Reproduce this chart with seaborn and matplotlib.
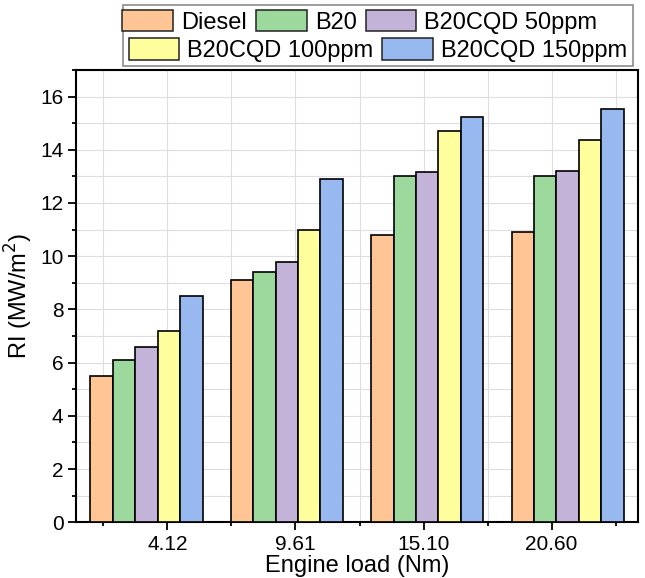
import matplotlib
matplotlib.use("Agg")
import matplotlib.pyplot as plt
from matplotlib.patches import Patch, Rectangle
from matplotlib.ticker import FixedLocator, MultipleLocator
import pandas as pd
import seaborn as sns

# Engine loads (Nm) and fuel blends
loads = ["4.12", "9.61", "15.10", "20.60"]
fuels = ["Diesel", "B20", "B20CQD 50ppm", "B20CQD 100ppm", "B20CQD 150ppm"]

# Radiation intensity RI (MW/m^2) per fuel, one value per engine load
ri_diesel = [5.5, 9.1, 10.8, 10.9]
ri_b20 = [6.1, 9.4, 13.0, 13.0]
ri_cqd50 = [6.6, 9.8, 13.15, 13.2]
ri_cqd100 = [7.2, 11.0, 14.7, 14.35]
ri_cqd150 = [8.5, 12.9, 15.23, 15.55]

colors = ["#FFC594", "#9DD89D", "#C3B3D8", "#FEFE9C", "#98B9EF"]

series = [ri_diesel, ri_b20, ri_cqd50, ri_cqd100, ri_cqd150]
df = pd.DataFrame(
    [(load, fuel, v) for fuel, vals in zip(fuels, series) for load, v in zip(loads, vals)],
    columns=["load", "fuel", "ri"],
)

sns.set_theme(style="white")
plt.rcParams["font.family"] = ["Liberation Sans", "DejaVu Sans"]

fig = plt.figure(figsize=(6.45, 5.78), dpi=100)
ax = fig.add_axes([0.118, 0.0964, 0.871, 0.7826])

sns.barplot(
    data=df, x="load", y="ri", hue="fuel", order=loads, hue_order=fuels,
    palette=colors, saturation=1, edgecolor="black", linewidth=1.2, width=0.8,
    legend=False, ax=ax, zorder=3,
)

ax.set_xlim(-0.5, 3.5)
ax.set_ylim(0, 17)

# Tick layout of the load axis
major_x = [0.15 + 0.912 * i for i in range(4)]
minor_x = [0.15 + 0.912 * i - 0.456 for i in range(5)]
ax.xaxis.set_major_locator(FixedLocator(major_x))
ax.set_xticklabels(loads)
ax.xaxis.set_minor_locator(FixedLocator(minor_x))
ax.yaxis.set_major_locator(MultipleLocator(2))
ax.yaxis.set_minor_locator(MultipleLocator(1))

ax.tick_params(axis="both", which="major", direction="out", length=6, width=1.3,
               color="black", labelsize=15, labelcolor="black", pad=3,
               bottom=True, left=True)
ax.tick_params(axis="both", which="minor", direction="out", length=3, width=1.3,
               color="black", bottom=True, left=True)

ax.grid(True, which="both", color="#dedede", linewidth=0.8, zorder=0)
ax.set_axisbelow(True)

for s in ax.spines.values():
    s.set_visible(True)
    s.set_color("black")
    s.set_linewidth(1.5)

ax.set_xlabel("Engine load (Nm)", fontsize=17, labelpad=1, color="black")
ax.set_ylabel("RI (MW/m$^2$)", fontsize=17, labelpad=4, color="black")

# Two-row legend in a shared frame above the plot
handles = [Patch(facecolor=c, edgecolor="#222222", linewidth=1.1) for c in colors]
common = dict(frameon=False, fontsize=17, handlelength=2.15, handleheight=1.0,
              handletextpad=0.34, columnspacing=0.38, borderpad=0.0, borderaxespad=0.0)
leg1 = fig.legend(handles[:3], fuels[:3], ncol=3, loc="center",
                  bbox_to_anchor=(0.558, 0.962), **common)
leg2 = fig.legend(handles[3:], fuels[3:], ncol=2, loc="center",
                  bbox_to_anchor=(0.586, 0.913), **common)
for leg in (leg1, leg2):
    for t in leg.get_texts():
        t.set_color("black")

W, H = 645, 578
frame = Rectangle((123 / W, 1 - 66 / H), (633 - 123) / W, (66 - 5) / H,
                  transform=fig.transFigure, facecolor="white",
                  edgecolor="#8c8c8c", linewidth=1.2, zorder=0)
fig.patches.append(frame)

fig.savefig("out.png", dpi=100)
